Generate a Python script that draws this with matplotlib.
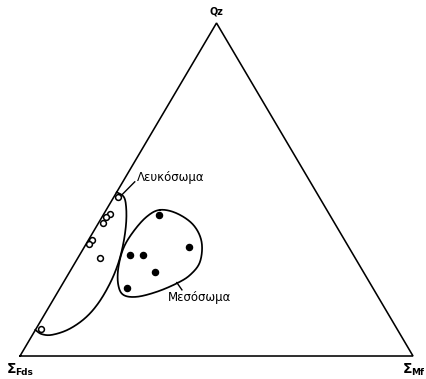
import numpy as np
import matplotlib
matplotlib.use("Agg")
import matplotlib.pyplot as plt

# ternary compositions in % (Qz, Fds, Mf)
leuco_qz = [47.7, 42.6, 41.8, 40.0, 34.8, 33.6, 29.5, 8.2]
leuco_fds = [51.3, 55.8, 57.3, 59.0, 64.3, 65.6, 64.8, 90.6]
leuco_mf = [1.0, 1.6, 0.9, 1.0, 0.9, 0.8, 5.7, 1.2]

meso_qz = [42.3, 32.6, 30.4, 30.3, 25.3, 20.5]
meso_fds = [43.6, 40.8, 56.8, 53.5, 52.9, 62.4]
meso_mf = [14.1, 26.6, 12.8, 16.2, 21.8, 17.1]

# field outlines, drawn in diagram units (triangle side = 100)
leuco_env_x = [3.9, 5.5, 8.1, 12.3, 16.5, 19.9, 22.9, 25.0, 26.3, 27.0, 27.0, 26.4, 24.6]
leuco_env_y = [6.8, 5.7, 5.5, 6.9, 9.8, 13.7, 18.9, 24.1, 29.3, 34.5, 38.8, 41.4, 42.6]

meso_env_x = [35.6, 39.9, 44.1, 46.2, 45.8, 43.3, 39.9, 34.8, 29.7, 26.3, 25.0, 25.0, 26.3, 28.8, 32.2]
meso_env_y = [38.0, 37.1, 34.1, 29.7, 24.5, 21.1, 18.9, 16.7, 15.4, 15.9, 18.5, 22.8, 28.0, 32.3, 36.2]

H = np.sqrt(3) / 2


def tern(qz, fds, mf):
    qz = np.array(qz, float)
    mf = np.array(mf, float)
    tot = qz + np.array(fds, float) + mf
    qz, mf = qz / tot * 100, mf / tot * 100
    return mf + qz / 2, qz * H


def catmull(x, y, closed=False, n=20):
    p = np.column_stack([x, y])
    if closed:
        p = np.vstack([p[-1], p, p[0], p[1]])
    else:
        p = np.vstack([p[0], p, p[-1]])
    out = []
    for i in range(1, len(p) - 2):
        p0, p1, p2, p3 = p[i - 1], p[i], p[i + 1], p[i + 2]
        t = np.linspace(0, 1, n, endpoint=False)[:, None]
        out.append(0.5 * ((2 * p1) + (-p0 + p2) * t + (2 * p0 - 5 * p1 + 4 * p2 - p3) * t ** 2
                          + (-p0 + 3 * p1 - 3 * p2 + p3) * t ** 3))
    out = np.vstack(out)
    out = np.vstack([out, p[-2]])
    return out[:, 0], out[:, 1]


fig = plt.figure(figsize=(4.27, 3.79), dpi=100)
ax = fig.add_axes([0, 0, 1, 1])
ax.set_xlim(-5.09, 103.56)
ax.set_ylim(-5.98, 92.59)
ax.axis("off")

# triangle frame
ax.plot([0, 100, 50, 0], [0, 0, 100 * H, 0], color="black", lw=1.15, solid_joinstyle="miter")

# fields
ex, ey = catmull(leuco_env_x, leuco_env_y)
ax.plot(ex, ey, color="black", lw=1.25)
ex, ey = catmull(meso_env_x, meso_env_y, closed=True)
ax.plot(ex, ey, color="black", lw=1.25)

# points
x, y = tern(leuco_qz, leuco_fds, leuco_mf)
ax.plot(x, y, "o", ms=4.2, mfc="white", mec="black", mew=1.1)
x, y = tern(meso_qz, meso_fds, meso_mf)
ax.plot(x, y, "o", ms=4.4, color="black")

# field labels with leaders
ax.plot([26.0, 29.2], [42.0, 45.3], color="black", lw=1.0)
ax.text(29.8, 46.5, "Λευκόσωμα", fontsize=8.5, ha="left", va="center")
ax.plot([39.9, 41.2], [19.1, 17.2], color="black", lw=1.0)
ax.text(37.5, 15.3, "Μεσόσωμα", fontsize=8.5, ha="left", va="center")

# apex labels
ax.text(50.1, 89.5, "Qz", fontsize=7, fontweight="bold", ha="center", va="center")
ax.text(-3.3, -3.3, "Σ", fontsize=10, fontweight="bold", ha="left", va="center")
ax.text(-1.2, -4.2, "Fds", fontsize=6.5, fontweight="bold", ha="left", va="center")
ax.text(97.3, -3.3, "Σ", fontsize=10, fontweight="bold", ha="left", va="center")
ax.text(99.5, -4.2, "Mf", fontsize=6.5, fontweight="bold", ha="left", va="center")

fig.savefig("out.png", dpi=100)
